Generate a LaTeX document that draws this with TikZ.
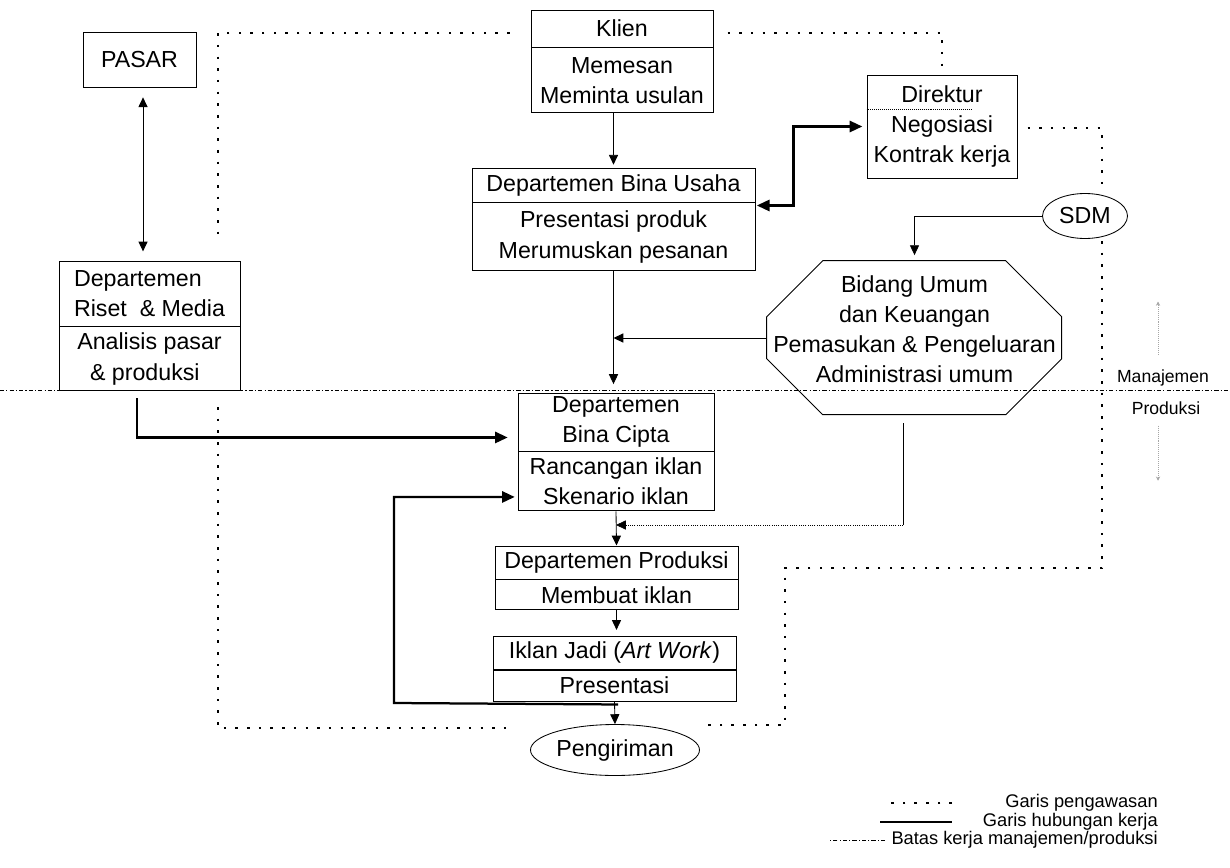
\documentclass[tikz,border=0pt]{standalone}
\usepackage{fontspec}
\setmainfont{Liberation Sans}
\usepackage{tikz}
\usetikzlibrary{shapes,arrows.meta,calc,positioning}
\newcommand{\pxu}{0.025cm}
\tikzset{
    x=0.025cm, y=-0.025cm, semithick,
    teks/.style={font=\fontsize{16.5}{21.5}\selectfont},
    kotak/.style={teks, draw, rectangle, align=center, inner sep=0pt, line width=0.7pt},
    bulat/.style={teks, draw, ellipse, inner sep=0pt, line width=0.6pt},
    panah/.style={-{Triangle[length=7pt,width=6.5pt]}, line width=0.6pt},
    tpanah/.style={-{Triangle[length=9pt,width=8pt]}},
    dua/.style={{Triangle[length=7pt,width=6.5pt]}-{Triangle[length=7pt,width=6.5pt]}, line width=0.7pt},
    tebal/.style={line width=1.6pt},
    awas/.style={line width=1.3pt, dash pattern=on 1.8pt off 6.5pt},
    batas/.style={line width=0.5pt, dash pattern=on 3pt off 1.5pt on 0.8pt off 1.5pt},
    samar/.style={gray!70, line width=0.4pt, densely dotted, -{Stealth[length=3pt,width=3pt]}},
    kecil/.style={font=\fontsize{13}{15}\selectfont, inner sep=0pt}
}

\begin{document}
\begin{tikzpicture}
    \useasboundingbox (0,0) rectangle (1230,868);

    \node[kotak, minimum width=113*\pxu, minimum height=55*\pxu] (pasar) at (139.5,59.5) {PASAR};
    \node[kotak, align=left, minimum width=181*\pxu, minimum height=65*\pxu] (risetT) at (149.5,293.5) {Departemen\\Riset \ \& Media};
    \node[kotak, align=left, minimum width=181*\pxu, minimum height=64*\pxu, below=0pt of risetT] (risetB) {Analisis pasar\\\hspace*{0.55em}\& produksi};

    \node[kotak, minimum width=182*\pxu, minimum height=37*\pxu] (klienT) at (622,28.5) {Klien};
    \node[kotak, minimum width=182*\pxu, minimum height=65*\pxu, below=0pt of klienT] (klienB) {Memesan\\Meminta usulan};

    \node[kotak, minimum width=283*\pxu, minimum height=34*\pxu] (usahaT) at (613.5,185) {Departemen Bina Usaha};
    \node[kotak, minimum width=283*\pxu, minimum height=68*\pxu, below=0pt of usahaT] (usahaB) {Presentasi produk\\Merumuskan pesanan};

    \node[kotak, minimum width=150*\pxu, minimum height=103*\pxu] (dirk) at (942,126.5) {Direktur\\Negosiasi\\Kontrak kerja};
    \draw[densely dotted, line width=0.4pt] (dirk.north west) ++(0,35) -- ++(105,0);

    \node[bulat, minimum width=85*\pxu, minimum height=45*\pxu] (sdm) at (1085,216) {SDM};

    \node[teks, align=center, inner sep=0pt, minimum width=295*\pxu, minimum height=154*\pxu, text depth=12.8pt] (bidang) at (914.5,338) {Bidang Umum\\dan Keuangan\\Pemasukan \& Pengeluaran\\Administrasi umum};
    \draw[line width=0.7pt] (bidang.north west) ++(56,0) -- ++(183,0) -- ++(56,56) -- ++(0,42) -- ++(-56,56) -- ++(-183,0) -- ++(-56,-56) -- ++(0,-42) -- cycle;

    \node[kotak, minimum width=196*\pxu, minimum height=58*\pxu] (ciptaT) at (616,422) {Departemen\\Bina Cipta};
    \node[kotak, minimum width=196*\pxu, minimum height=59*\pxu, below=0pt of ciptaT] (ciptaB) {Rancangan iklan\\Skenario iklan};

    \node[kotak, minimum width=243*\pxu, minimum height=33*\pxu] (prodT) at (616.5,562.5) {Departemen Produksi};
    \node[kotak, minimum width=243*\pxu, minimum height=30*\pxu, below=0pt of prodT] (prodB) {Membuat iklan};

    \node[kotak, minimum width=243*\pxu, minimum height=33*\pxu] (iklanT) at (614.5,652.5) {Iklan Jadi (\textit{Art Work})};
    \node[kotak, minimum width=243*\pxu, minimum height=31*\pxu, below=0pt of iklanT] (iklanB) {Presentasi};

    \node[bulat, minimum width=169*\pxu, minimum height=51*\pxu] (kirim) at (615,750) {Pengiriman};

    \draw[dua, shorten <=7pt, shorten >=6.5pt] ([xshift=2.5pt]pasar.south) -- ([xshift=2.5pt]pasar.south |- risetT.north);
    \draw[panah, shorten >=2pt] (usahaT.north |- klienB.south) -- (usahaT.north);
    \draw[tebal, {Triangle[length=9pt,width=8pt]}-{Triangle[length=9pt,width=8pt]}, shorten <=1pt, shorten >=3pt] (usahaT.south east) ++(0,3) -- ++(38,0) |- (dirk.west);
    \draw[panah, shorten >=4pt] (sdm.west) -| (bidang.north);
    \draw[panah] (bidang.west) -- (bidang.west -| usahaB.south);
    \draw[panah, shorten >=6pt] (usahaB.south) -- (usahaB.south |- ciptaT.north);
    \draw[tebal, tpanah, shorten >=7pt] (risetB.south) ++(-12.5,7) |- ([yshift=-11pt]ciptaT.west);
    \coordinate (balik) at (394,703);
    \draw[tebal, tpanah, shorten >=2pt] (iklanB.south) ++(3.5,3) -- (balik) |- ([yshift=-11pt]ciptaB.west);
    \draw[panah] (iklanB.south) -- (kirim.north);
    \draw[panah] (ciptaB.south) -- (prodT.north);
    \draw[panah, shorten >=4pt] (prodB.south) -- (prodB.south |- iklanT.north);
    \coordinate (sudut) at (903,525);
    \draw[line width=0.6pt] (bidang.south) ++(-11.5,8) -- (sudut);
    \draw[panah, densely dotted, line width=0.5pt] (sudut) -- (sudut -| ciptaB.south);

    \coordinate (putusA) at (218,238);
    \coordinate (putusB) at (218,407);
    \coordinate (putusC) at (508,728);
    \coordinate (kananA) at (1102,188);
    \coordinate (kananB) at (1102,241);
    \coordinate (kananC) at (785,568);
    \coordinate (putusD) at (708,725);
    \draw[awas] (klienT.west) ++(-21,4.5) -| (putusA);
    \draw[awas] (putusB) |- (putusC);
    \draw[awas, shorten >=2pt] (klienT.east) ++(14,4.5) -| (dirk.north);
    \draw[awas] (dirk.east) ++(10,1.5) -| (kananA);
    \draw[awas] (kananB) |- (kananC) |- (putusD);

    \draw[batas] (0,390) -- (1230,390);

    \node[kecil, font=\fontsize{12.5}{14}\selectfont] (manaj) at (1163,378) {Manajemen};
    \node[kecil, font=\fontsize{12.5}{14}\selectfont] (prodLbl) at (1166,408) {Produksi};
    \draw[samar] (manaj.north) ++(-5,-15) -- ++(0,-53);
    \draw[samar] (prodLbl.south) ++(-8,11) -- ++(0,55);

    \node[kecil, anchor=east] (lgA) at (1158,803) {Garis pengawasan};
    \node[kecil, anchor=east] (lgB) at (1158,822) {Garis hubungan kerja};
    \node[kecil, anchor=east] (lgC) at (1158,840) {Batas kerja manajemen/produksi};
    \draw[awas] (lgA.west) ++(-53,0) -- ++(-65,0);
    \draw[line width=0.9pt] (lgB.west) ++(-31,0) -- ++(-72,0);
    \draw[batas] (lgC.west) ++(-6,0) -- ++(-55,0);
\end{tikzpicture}
\end{document}
